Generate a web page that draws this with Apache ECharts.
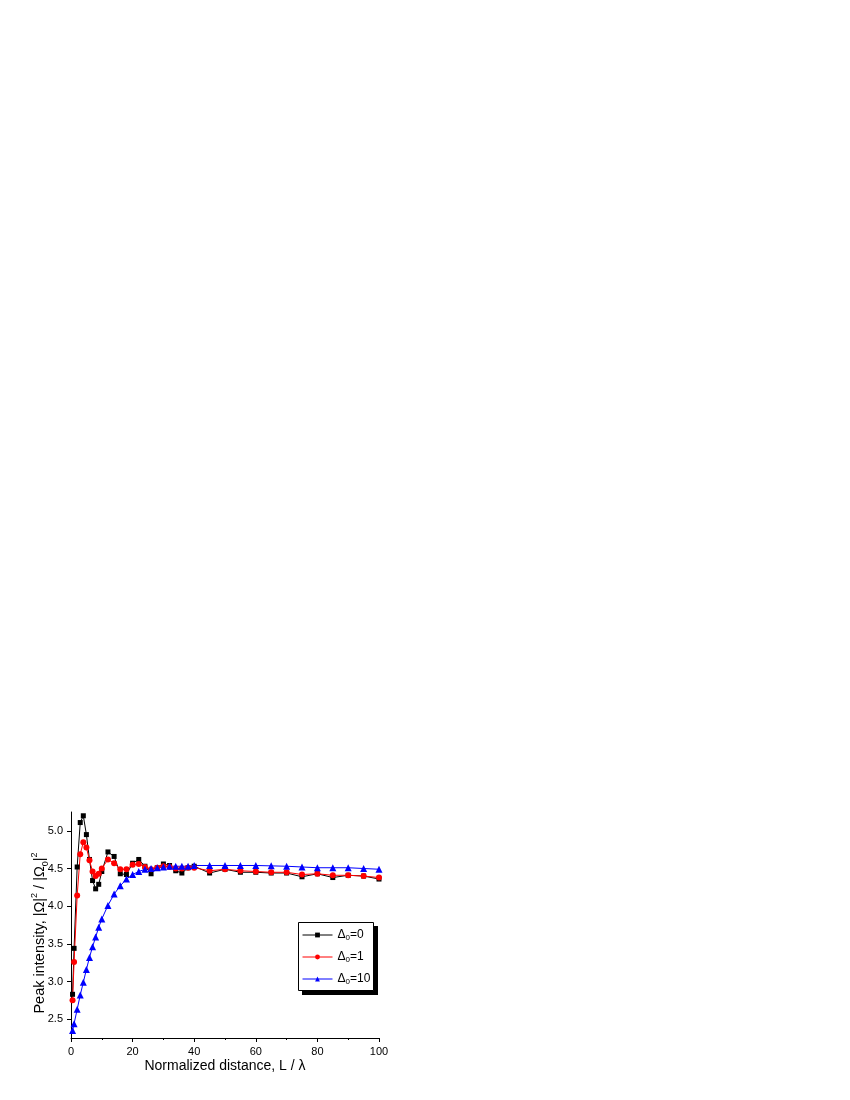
<!DOCTYPE html>
<html>
<head>
<meta charset="utf-8">
<script src="https://cdn.jsdelivr.net/npm/echarts@6/dist/echarts.min.js"></script>
<style>
  html, body { margin: 0; padding: 0; background: #fff; }
  #chart { width: 850px; height: 1100px; }
</style>
</head>
<body>
<div id="chart"></div>
<script>
// normalized distance L / lambda
var distance = [0.5, 1, 2, 3, 4, 5, 6, 7, 8, 9, 10, 12, 14, 16, 18, 20, 22, 24, 26, 28, 30,
    32, 34, 36, 38, 40, 45, 50, 55, 60, 65, 70, 75, 80, 85, 90, 95, 100];

// peak intensity, delta0 = 0
var delta0 = [2.83, 3.44, 4.52, 5.11, 5.20, 4.95, 4.62, 4.34, 4.23, 4.29, 4.46, 4.72, 4.66, 4.43,
    4.42, 4.57, 4.62, 4.53, 4.43, 4.51, 4.56, 4.54, 4.47, 4.44, 4.51, 4.53, 4.44, 4.49, 4.45,
    4.45, 4.44, 4.44, 4.39, 4.43, 4.38, 4.41, 4.40, 4.36];

// delta0 = 1
var delta1 = [2.75, 3.26, 4.14, 4.69, 4.85, 4.78, 4.61, 4.46, 4.40, 4.43, 4.50, 4.62, 4.57, 4.49,
    4.49, 4.55, 4.56, 4.52, 4.49, 4.51, 4.53, 4.52, 4.50, 4.50, 4.51, 4.51, 4.47, 4.49, 4.47,
    4.46, 4.45, 4.45, 4.42, 4.43, 4.41, 4.41, 4.40, 4.38];

// delta0 = 10
var delta10 = [2.35, 2.44, 2.63, 2.82, 2.99, 3.16, 3.32, 3.46, 3.59, 3.72, 3.83, 4.01, 4.16, 4.27,
    4.36, 4.42, 4.46, 4.49, 4.50, 4.51, 4.52, 4.53, 4.53, 4.53, 4.53, 4.54, 4.54, 4.54, 4.54,
    4.54, 4.535, 4.53, 4.52, 4.51, 4.51, 4.51, 4.50, 4.49];

var yTicks = [2.5, 3.0, 3.5, 4.0, 4.5, 5.0];

var FONT = 'Liberation Sans, Arial, sans-serif';

function pairs(ys) {
    return distance.map(function (x, i) { return [x, ys[i]]; });
}

function makeSeries(name, ys, color, symbol, size) {
    return {
        name: name,
        type: 'line',
        data: pairs(ys),
        symbol: symbol,
        symbolSize: size,
        showAllSymbol: true,
        lineStyle: { color: color, width: 1 },
        itemStyle: { color: color },
        emphasis: { disabled: true },
        animation: false
    };
}

var chart = echarts.init(document.getElementById('chart'), null, { renderer: 'canvas' });

var option = {
    backgroundColor: '#ffffff',
    animation: false,
    textStyle: { fontFamily: FONT },
    grid: { left: 71, right: 471, top: 812, bottom: 62, containLabel: false },
    // legend frame with its hard black drop shadow
    graphic: [
        { type: 'rect', z: 0, shape: { x: 302, y: 926, width: 76, height: 69 }, style: { fill: '#000' } },
        { type: 'rect', z: 1, shape: { x: 298.5, y: 922.5, width: 75, height: 68 },
          style: { fill: '#fff', stroke: '#000', lineWidth: 1 } },
        {
            // y axis title, drawn here so it can sit where the original one is
            type: 'text', z: 1,
            x: 40, y: 933, rotation: Math.PI / 2,
            style: {
                text: 'Peak intensity, |Ω|{sup|2} / |Ω{sub|0}|{sup|2}',
                fontFamily: FONT, fontSize: 14.5, fill: '#000',
                align: 'center', verticalAlign: 'middle', lineHeight: 20,
                rich: {
                    sup: { fontSize: 9, fontFamily: FONT, verticalAlign: 'top', lineHeight: 9 },
                    sub: { fontSize: 9, fontFamily: FONT, verticalAlign: 'bottom', lineHeight: 9 }
                }
            }
        }
    ],
    legend: {
        orient: 'vertical',
        left: 298,
        top: 922,
        z: 5,
        padding: [6, 4, 6, 4],
        itemGap: 8,
        itemWidth: 30,
        itemHeight: 6,
        lineStyle: { width: 1 },
        formatter: function (name) {
            return 'Δ{sub|0}=' + name.split('=')[1];
        },
        textStyle: {
            fontFamily: FONT,
            fontSize: 12,
            color: '#000',
            lineHeight: 14,
            rich: {
                sub: { fontSize: 8, fontFamily: FONT, verticalAlign: 'bottom', lineHeight: 8 }
            }
        },
        data: ['d=0', 'd=1', 'd=10']
    },
    xAxis: {
        type: 'value',
        min: 0,
        max: 100,
        interval: 20,
        name: 'Normalized distance, L / λ',
        nameLocation: 'middle',
        nameGap: 21,
        nameTextStyle: { fontFamily: FONT, fontSize: 14, color: '#000' },
        axisLine: { show: true, onZero: false, lineStyle: { color: '#000', width: 1 } },
        axisTick: { show: true, inside: false, length: 4, lineStyle: { color: '#000' } },
        minorTick: { show: true, splitNumber: 2, length: 2, lineStyle: { color: '#000' } },
        axisLabel: { fontFamily: FONT, fontSize: 11, color: '#000', margin: 8 },
        splitLine: { show: false }
    },
    yAxis: {
        type: 'value',
        min: 2.25,
        max: 5.25,
        axisLine: { show: true, onZero: false, lineStyle: { color: '#000', width: 1 } },
        axisTick: { show: true, inside: false, length: 4, customValues: yTicks, lineStyle: { color: '#000' } },
        axisLabel: {
            fontFamily: FONT, fontSize: 11, color: '#000', margin: 8,
            customValues: yTicks,
            formatter: function (v) { return v.toFixed(1); }
        },
        splitLine: { show: false }
    },
    series: [
        makeSeries('d=0', delta0, '#000000', 'rect', 5),
        makeSeries('d=1', delta1, '#ff0000', 'circle', 6),
        makeSeries('d=10', delta10, '#0000ff', 'triangle', 7)
    ]
};

chart.setOption(option);
</script>
</body>
</html>
